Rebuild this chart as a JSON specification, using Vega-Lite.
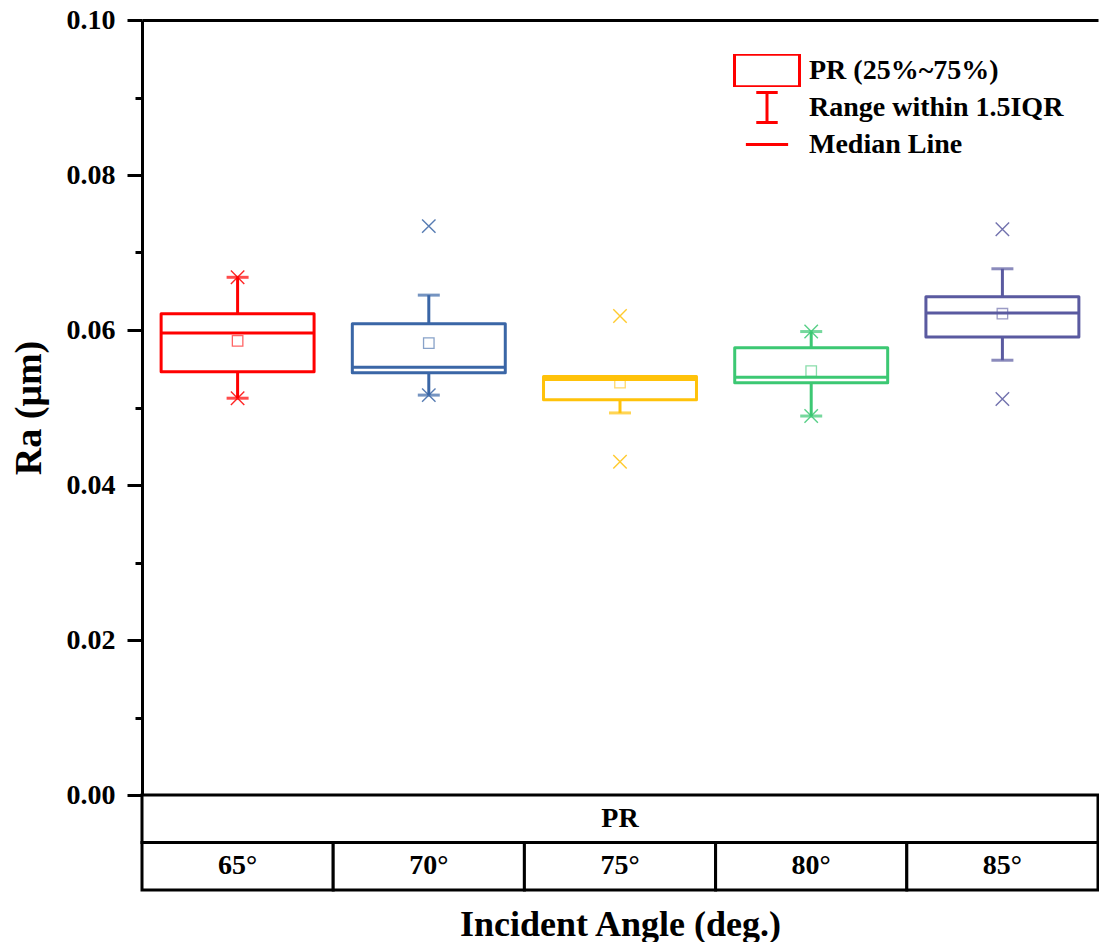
{
  "$schema": "https://vega.github.io/schema/vega-lite/v6.json",
  "padding": {"left": 10, "top": 6, "right": 0, "bottom": 0},
  "background": "white",
  "config": {
    "view": {"stroke": null},
    "font": "Liberation Serif",
    "axis": {"labelFont": "Liberation Serif", "titleFont": "Liberation Serif", "labelColor": "black", "titleColor": "black", "labelFontWeight": "bold", "titleFontWeight": "bold"}
  },
  "datasets": {
    "stats": [
      {"angle": "65°", "lo": 0.0512, "q1": 0.0546, "med": 0.0596, "q3": 0.0621, "hi": 0.0668, "mean": 0.0586, "mn": 0.0512, "mx": 0.0668},
      {"angle": "70°", "lo": 0.0516, "q1": 0.0545, "med": 0.0552, "q3": 0.0608, "hi": 0.0645, "mean": 0.0583, "mn": 0.0516, "mx": 0.0734},
      {"angle": "75°", "lo": 0.0493, "q1": 0.0510, "med": 0.0536, "q3": 0.0540, "hi": 0.0540, "mean": 0.0532, "mn": 0.0430, "mx": 0.0618},
      {"angle": "80°", "lo": 0.0489, "q1": 0.0532, "med": 0.0539, "q3": 0.0577, "hi": 0.0598, "mean": 0.0547, "mn": 0.0489, "mx": 0.0598},
      {"angle": "85°", "lo": 0.0561, "q1": 0.0591, "med": 0.0622, "q3": 0.0643, "hi": 0.0679, "mean": 0.0621, "mn": 0.0511, "mx": 0.0730}
    ],
    "legendItems": [
      {"item": "PR (25%~75%)"},
      {"item": "Range within 1.5IQR"},
      {"item": "Median Line"}
    ],
    "cells": [
      {"angle": "65°", "tier": "angle"},
      {"angle": "70°", "tier": "angle"},
      {"angle": "75°", "tier": "angle"},
      {"angle": "80°", "tier": "angle"},
      {"angle": "85°", "tier": "angle"}
    ],
    "group": [{"tier": "PR", "label": "PR"}]
  },
  "spacing": 0,
  "bounds": "flush",
  "vconcat": [
    {
      "width": 956,
      "height": 775,
      "data": {"name": "stats"},
      "encoding": {
        "x": {"field": "angle", "type": "nominal", "sort": null,
              "scale": {"domain": ["65°", "70°", "75°", "80°", "85°"], "paddingInner": 0, "paddingOuter": 0},
              "axis": {"orient": "top", "labels": false, "ticks": false, "title": null, "domainWidth": 3, "domainColor": "black"}},
        "color": {"field": "angle", "type": "nominal", "legend": null,
                  "scale": {"domain": ["65°", "70°", "75°", "80°", "85°"], "range": ["#FF0000", "#3A66A6", "#FFC20A", "#3CC873", "#5A5AA0"]}}
      },
      "layer": [
        {
          "mark": {"type": "rule", "strokeWidth": 3},
          "encoding": {
            "y": {"field": "lo", "type": "quantitative",
                  "scale": {"domain": [0, 0.1], "nice": false, "zero": true},
                  "axis": {
                    "values": [0, 0.01, 0.02, 0.03, 0.04, 0.05, 0.06, 0.07, 0.08, 0.09, 0.1],
                    "labelExpr": "round(datum.value*100) % 2 == 0 ? format(datum.value, '.2f') : ''",
                    "tickSize": {"condition": {"test": "round(datum.value*100) % 2 == 0", "value": 15}, "value": 7},
                    "tickWidth": 3, "tickColor": "black",
                    "domainWidth": 3, "domainColor": "black",
                    "labelFontSize": 28, "labelPadding": 12,
                    "grid": false,
                    "title": "Ra (μm)", "titleFontSize": 38, "titlePadding": 18
                  }},
            "y2": {"field": "q1"}
          }
        },
        {
          "mark": {"type": "rule", "strokeWidth": 3},
          "encoding": {"y": {"field": "q3", "type": "quantitative"}, "y2": {"field": "hi"}}
        },
        {
          "mark": {"type": "tick", "size": 22, "thickness": 3, "orient": "horizontal"},
          "encoding": {"y": {"field": "lo", "type": "quantitative"}}
        },
        {
          "mark": {"type": "tick", "size": 22, "thickness": 3, "orient": "horizontal"},
          "encoding": {"y": {"field": "hi", "type": "quantitative"}}
        },
        {
          "mark": {"type": "bar", "filled": false, "strokeWidth": 3, "strokeJoin": "round", "width": {"band": 0.8}},
          "encoding": {"y": {"field": "q1", "type": "quantitative"}, "y2": {"field": "q3"}}
        },
        {
          "mark": {"type": "bar", "filled": false, "strokeWidth": 3, "width": {"band": 0.8}},
          "encoding": {"y": {"field": "med", "type": "quantitative"}, "y2": {"field": "med"}}
        },
        {
          "mark": {"type": "point", "shape": "square", "filled": false, "size": 110, "strokeWidth": 1.3, "opacity": 0.6},
          "encoding": {"y": {"field": "mean", "type": "quantitative"}}
        },
        {
          "mark": {"type": "point", "shape": "M-1,-1L1,1M-1,1L1,-1", "filled": false, "size": 180, "strokeWidth": 1.4, "opacity": 0.85},
          "encoding": {"y": {"field": "mn", "type": "quantitative"}}
        },
        {
          "mark": {"type": "point", "shape": "M-1,-1L1,1M-1,1L1,-1", "filled": false, "size": 180, "strokeWidth": 1.4, "opacity": 0.85},
          "encoding": {"y": {"field": "mx", "type": "quantitative"}}
        },
        {
          "data": {"name": "legendItems"},
          "transform": [{"filter": "false"}],
          "mark": {"type": "point", "filled": false, "color": "#FF0000", "strokeWidth": 3},
          "encoding": {
            "x": {"value": 0},
            "y": {"value": 0},
            "color": {"value": "#FF0000"},
            "shape": {"field": "item", "type": "nominal",
                      "scale": {"domain": ["PR (25%~75%)", "Range within 1.5IQR", "Median Line"],
                                "range": ["M-1,-0.5H1V0.5H-1Z", "M-0.33,-0.46H0.33M0,-0.46V0.46M-0.33,0.46H0.33", "M-0.65,0H0.65"]},
                      "legend": {
                        "orient": "none", "legendX": 591, "legendY": 34, "title": null,
                        "symbolSize": 4225, "symbolStrokeWidth": 3, "symbolStrokeColor": "#FF0000",
                        "symbolFillColor": "transparent", "symbolOpacity": 1,
                        "labelFont": "Liberation Serif", "labelFontSize": 28, "labelFontWeight": "bold",
                        "labelColor": "black", "labelLimit": 400,
                        "clipHeight": 33, "rowPadding": 4, "labelOffset": 8, "padding": 0
                      }}
          }
        }
      ]
    },
    {
      "width": 956,
      "height": 95,
      "layer": [
        {
          "data": {"name": "group"},
          "mark": {"type": "rect", "fill": "white", "stroke": "black", "strokeWidth": 3},
          "encoding": {
            "y": {"field": "tier", "type": "nominal", "scale": {"domain": ["PR", "angle"], "paddingInner": 0, "paddingOuter": 0}, "axis": null}
          }
        },
        {
          "data": {"name": "cells"},
          "mark": {"type": "rect", "fill": "white", "stroke": "black", "strokeWidth": 3},
          "encoding": {
            "x": {"field": "angle", "type": "nominal", "sort": null,
                  "scale": {"domain": ["65°", "70°", "75°", "80°", "85°"], "paddingInner": 0, "paddingOuter": 0},
                  "axis": {"labels": false, "ticks": false, "domain": false, "title": "Incident Angle (deg.)", "titleFontSize": 36, "titlePadding": 17}},
            "y": {"field": "tier", "type": "nominal"}
          }
        },
        {
          "data": {"name": "group"},
          "mark": {"type": "text", "font": "Liberation Serif", "fontWeight": "bold", "fontSize": 28, "color": "black"},
          "encoding": {
            "y": {"field": "tier", "type": "nominal"},
            "text": {"field": "label"}
          }
        },
        {
          "data": {"name": "cells"},
          "mark": {"type": "text", "font": "Liberation Serif", "fontWeight": "bold", "fontSize": 28, "color": "black"},
          "encoding": {
            "x": {"field": "angle", "type": "nominal", "sort": null},
            "y": {"field": "tier", "type": "nominal"},
            "text": {"field": "angle"}
          }
        }
      ]
    }
  ]
}
